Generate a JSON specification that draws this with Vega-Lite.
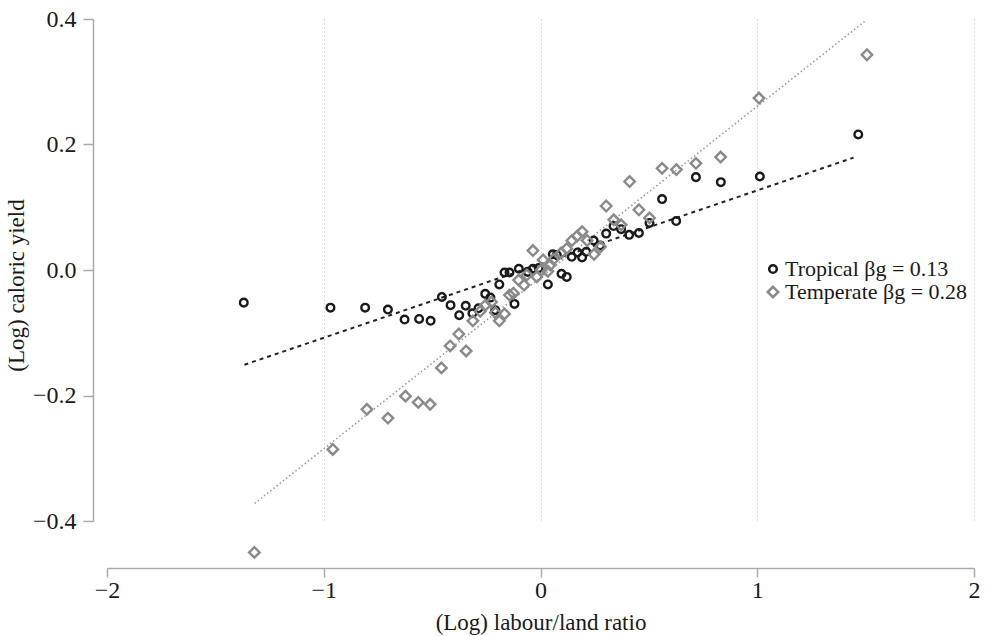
{
  "$schema": "https://vega.github.io/schema/vega-lite/v6.json",
  "width": 867,
  "height": 502,
  "autosize": {"type": "none"},
  "padding": {"left": 107, "top": 19, "right": 11, "bottom": 115},
  "background": "white",
  "config": {
    "view": {"stroke": null},
    "font": "Liberation Serif",
    "axis": {
      "labelFont": "Liberation Serif",
      "titleFont": "Liberation Serif",
      "labelFontSize": 24,
      "titleFontSize": 23,
      "titleFontWeight": "normal",
      "labelColor": "#1a1a1a",
      "titleColor": "#1a1a1a",
      "domainColor": "#aaaaaa",
      "tickColor": "#aaaaaa",
      "domainWidth": 1.5,
      "tickWidth": 1.5,
      "labelFlush": false,
      "labelOverlap": false
    },
    "legend": {
      "labelFont": "Liberation Serif",
      "labelFontSize": 22,
      "labelColor": "#1a1a1a",
      "labelLimit": 0
    }
  },
  "datasets": {
    "pts": [
      {"group": "Tropical", "x": -1.369, "y": -0.052},
      {"group": "Tropical", "x": -0.969, "y": -0.060},
      {"group": "Tropical", "x": -0.809, "y": -0.060},
      {"group": "Tropical", "x": -0.704, "y": -0.063},
      {"group": "Tropical", "x": -0.627, "y": -0.079},
      {"group": "Tropical", "x": -0.560, "y": -0.078},
      {"group": "Tropical", "x": -0.507, "y": -0.081},
      {"group": "Tropical", "x": -0.455, "y": -0.043},
      {"group": "Tropical", "x": -0.415, "y": -0.056},
      {"group": "Tropical", "x": -0.375, "y": -0.072},
      {"group": "Tropical", "x": -0.345, "y": -0.057},
      {"group": "Tropical", "x": -0.314, "y": -0.069},
      {"group": "Tropical", "x": -0.286, "y": -0.061},
      {"group": "Tropical", "x": -0.255, "y": -0.038},
      {"group": "Tropical", "x": -0.231, "y": -0.044},
      {"group": "Tropical", "x": -0.209, "y": -0.064},
      {"group": "Tropical", "x": -0.190, "y": -0.023},
      {"group": "Tropical", "x": -0.166, "y": -0.004},
      {"group": "Tropical", "x": -0.143, "y": -0.004},
      {"group": "Tropical", "x": -0.120, "y": -0.054},
      {"group": "Tropical", "x": -0.100, "y": 0.002},
      {"group": "Tropical", "x": -0.059, "y": -0.003},
      {"group": "Tropical", "x": -0.035, "y": 0.002},
      {"group": "Tropical", "x": -0.008, "y": 0.003},
      {"group": "Tropical", "x": 0.034, "y": -0.023},
      {"group": "Tropical", "x": 0.057, "y": 0.025},
      {"group": "Tropical", "x": 0.075, "y": 0.024},
      {"group": "Tropical", "x": 0.097, "y": -0.006},
      {"group": "Tropical", "x": 0.121, "y": -0.011},
      {"group": "Tropical", "x": 0.144, "y": 0.021},
      {"group": "Tropical", "x": 0.171, "y": 0.028},
      {"group": "Tropical", "x": 0.192, "y": 0.020},
      {"group": "Tropical", "x": 0.211, "y": 0.029},
      {"group": "Tropical", "x": 0.245, "y": 0.047},
      {"group": "Tropical", "x": 0.275, "y": 0.039},
      {"group": "Tropical", "x": 0.303, "y": 0.058},
      {"group": "Tropical", "x": 0.337, "y": 0.070},
      {"group": "Tropical", "x": 0.372, "y": 0.065},
      {"group": "Tropical", "x": 0.409, "y": 0.056},
      {"group": "Tropical", "x": 0.454, "y": 0.059},
      {"group": "Tropical", "x": 0.503, "y": 0.075},
      {"group": "Tropical", "x": 0.561, "y": 0.113},
      {"group": "Tropical", "x": 0.626, "y": 0.078},
      {"group": "Tropical", "x": 0.717, "y": 0.148},
      {"group": "Tropical", "x": 0.832, "y": 0.140},
      {"group": "Tropical", "x": 1.012, "y": 0.149},
      {"group": "Tropical", "x": 1.466, "y": 0.216},
      {"group": "Temperate", "x": -1.320, "y": -0.450},
      {"group": "Temperate", "x": -0.958, "y": -0.286},
      {"group": "Temperate", "x": -0.801, "y": -0.222},
      {"group": "Temperate", "x": -0.704, "y": -0.236},
      {"group": "Temperate", "x": -0.623, "y": -0.201},
      {"group": "Temperate", "x": -0.564, "y": -0.211},
      {"group": "Temperate", "x": -0.509, "y": -0.214},
      {"group": "Temperate", "x": -0.457, "y": -0.156},
      {"group": "Temperate", "x": -0.417, "y": -0.121},
      {"group": "Temperate", "x": -0.377, "y": -0.102},
      {"group": "Temperate", "x": -0.343, "y": -0.129},
      {"group": "Temperate", "x": -0.312, "y": -0.081},
      {"group": "Temperate", "x": -0.278, "y": -0.066},
      {"group": "Temperate", "x": -0.254, "y": -0.056},
      {"group": "Temperate", "x": -0.226, "y": -0.051},
      {"group": "Temperate", "x": -0.208, "y": -0.068},
      {"group": "Temperate", "x": -0.190, "y": -0.081},
      {"group": "Temperate", "x": -0.166, "y": -0.070},
      {"group": "Temperate", "x": -0.143, "y": -0.040},
      {"group": "Temperate", "x": -0.125, "y": -0.037},
      {"group": "Temperate", "x": -0.101, "y": -0.016},
      {"group": "Temperate", "x": -0.076, "y": -0.024},
      {"group": "Temperate", "x": -0.063, "y": -0.008},
      {"group": "Temperate", "x": -0.035, "y": 0.031},
      {"group": "Temperate", "x": -0.017, "y": -0.011},
      {"group": "Temperate", "x": 0.003, "y": 0.000},
      {"group": "Temperate", "x": 0.012, "y": 0.016},
      {"group": "Temperate", "x": 0.034, "y": -0.002},
      {"group": "Temperate", "x": 0.045, "y": 0.008},
      {"group": "Temperate", "x": 0.060, "y": 0.017},
      {"group": "Temperate", "x": 0.095, "y": 0.027},
      {"group": "Temperate", "x": 0.121, "y": 0.034},
      {"group": "Temperate", "x": 0.145, "y": 0.047},
      {"group": "Temperate", "x": 0.169, "y": 0.054},
      {"group": "Temperate", "x": 0.192, "y": 0.061},
      {"group": "Temperate", "x": 0.215, "y": 0.047},
      {"group": "Temperate", "x": 0.247, "y": 0.025},
      {"group": "Temperate", "x": 0.277, "y": 0.037},
      {"group": "Temperate", "x": 0.303, "y": 0.102},
      {"group": "Temperate", "x": 0.338, "y": 0.080},
      {"group": "Temperate", "x": 0.372, "y": 0.072},
      {"group": "Temperate", "x": 0.411, "y": 0.141},
      {"group": "Temperate", "x": 0.454, "y": 0.096},
      {"group": "Temperate", "x": 0.503, "y": 0.083},
      {"group": "Temperate", "x": 0.561, "y": 0.162},
      {"group": "Temperate", "x": 0.627, "y": 0.160},
      {"group": "Temperate", "x": 0.717, "y": 0.170},
      {"group": "Temperate", "x": 0.831, "y": 0.180},
      {"group": "Temperate", "x": 1.008, "y": 0.274},
      {"group": "Temperate", "x": 1.506, "y": 0.343}
    ],
    "lines": [
      {"group": "Tropical", "x": -1.366, "y": -0.151},
      {"group": "Tropical", "x": 1.444, "y": 0.179},
      {"group": "Temperate", "x": -1.319, "y": -0.372},
      {"group": "Temperate", "x": 1.495, "y": 0.396}
    ]
  },
  "layer": [
    {
      "data": {"name": "lines"},
      "transform": [{"filter": "datum.group === 'Temperate'"}],
      "mark": {"type": "line", "color": "#9a9a9a", "strokeWidth": 1.6, "strokeDash": [1.5, 2.5]},
      "encoding": {
        "x": {"field": "x", "type": "quantitative"},
        "y": {"field": "y", "type": "quantitative"}
      }
    },
    {
      "data": {"name": "lines"},
      "transform": [{"filter": "datum.group === 'Tropical'"}],
      "mark": {"type": "line", "color": "#222222", "strokeWidth": 2, "strokeDash": [4, 4]},
      "encoding": {
        "x": {"field": "x", "type": "quantitative"},
        "y": {"field": "y", "type": "quantitative"}
      }
    },
    {
      "data": {"name": "pts"},
      "mark": {"type": "point", "filled": false, "strokeWidth": 2.4, "opacity": 1},
      "encoding": {
        "x": {
          "field": "x",
          "type": "quantitative",
          "scale": {"domain": [-2, 2], "nice": false, "zero": false},
          "axis": {
            "values": [-2, -1, 0, 1, 2],
            "format": "d",
            "title": "(Log) labour/land ratio",
            "offset": 47,
            "grid": true,
            "gridColor": "#bbbbbb",
            "gridDash": [1, 3],
            "gridWidth": 1,
            "gridOpacity": {"condition": {"test": "datum.value === -2", "value": 0}, "value": 1},
            "tickSize": 9,
            "labelPadding": 1,
            "titleY": 61,
            "titleBaseline": "alphabetic"
          }
        },
        "y": {
          "field": "y",
          "type": "quantitative",
          "scale": {"domain": [-0.4, 0.4], "nice": false, "zero": false},
          "axis": {
            "values": [-0.4, -0.2, 0, 0.2, 0.4],
            "format": ".1f",
            "title": "(Log) caloric yield",
            "offset": 14,
            "grid": false,
            "tickSize": 10,
            "labelPadding": 7,
            "titleX": -70,
            "titleY": 266,
            "titleBaseline": "alphabetic"
          }
        },
        "shape": {
          "field": "group",
          "type": "nominal",
          "scale": {"domain": ["Tropical", "Temperate"], "range": ["circle", "diamond"]},
          "legend": {
            "title": null,
            "orient": "none",
            "legendX": 655,
            "legendY": 239,
            "labelExpr": "datum.label === 'Tropical' ? 'Tropical βg = 0.13' : 'Temperate βg = 0.28'",
            "symbolStrokeWidth": 2.5,
            "labelOffset": 1,
            "rowPadding": 1,
            "padding": 0
          }
        },
        "color": {
          "field": "group",
          "type": "nominal",
          "scale": {"domain": ["Tropical", "Temperate"], "range": ["#1a1a1a", "#8a8a8a"]}
        },
        "size": {
          "field": "group",
          "type": "nominal",
          "scale": {"domain": ["Tropical", "Temperate"], "range": [58, 110]}
        }
      }
    }
  ]
}
